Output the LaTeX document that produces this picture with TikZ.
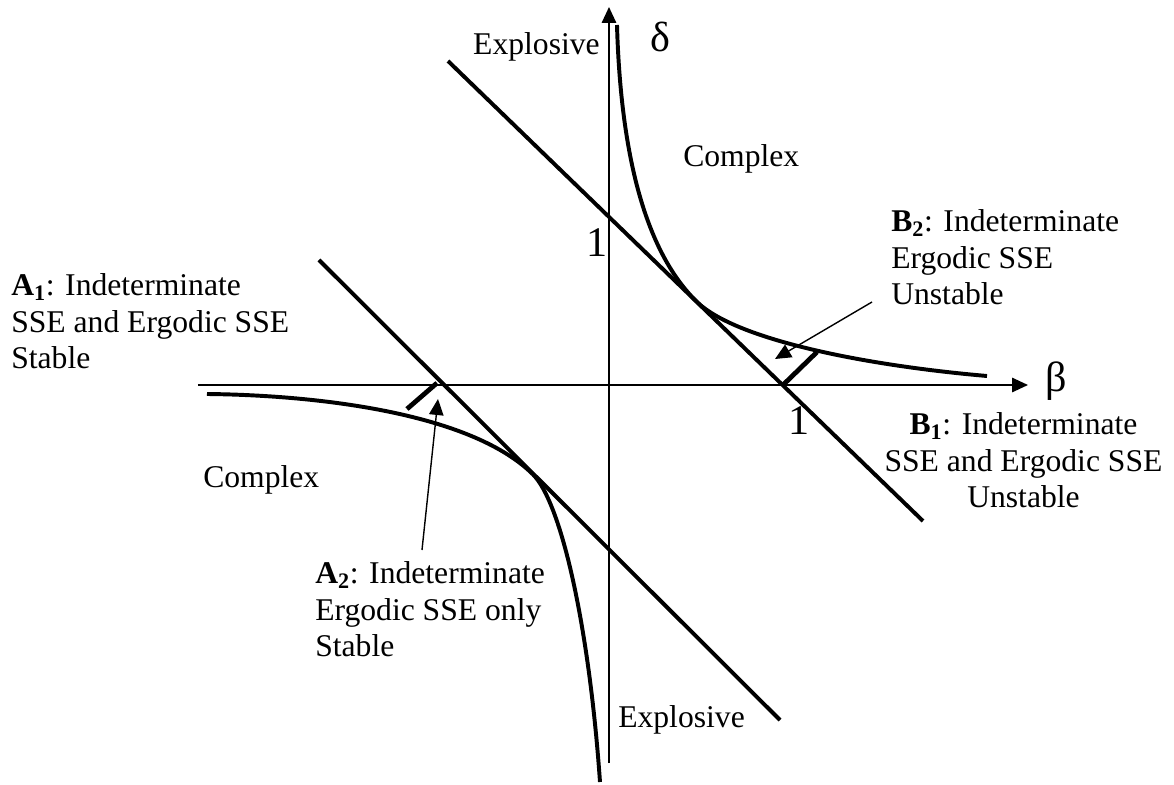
\documentclass[tikz,border=0pt]{standalone}
\usepackage{fontspec}
\setmainfont{Liberation Serif}
\usetikzlibrary{arrows.meta}

\begin{document}
\begin{tikzpicture}[
  axis/.style={line width=1.4pt, -{Triangle[length=0.4cm, width=0.36cm]}},
  bound/.style={line width=2.8pt},
  tickseg/.style={line width=3.4pt},
  pointer/.style={line width=1pt, -{Triangle[length=0.4cm, width=0.36cm]}},
  lbl/.style={inner sep=0pt, font=\fontsize{22.5}{26}\selectfont},
  big/.style={inner sep=0pt, font=\fontsize{30}{34}\selectfont}
]
% Frame (origin where the axes cross)
\useasboundingbox (-15.225,-10.0) rectangle (14.125,9.625);

% Axes
\coordinate (xl) at (-10.275,0);
\coordinate (xr) at (10.475,0);
\coordinate (yb) at (0,-9.45);
\coordinate (yt) at (0,9.45);
\draw[axis] (xl) -- (xr);
\draw[axis] (yb) -- (yt);
\node[big] (beta) at (11.175,0.1) {β};
\node[big] (delta) at (1.275,8.7) {δ};
\node[big] (one-d) at (-0.3,3.55) {1};
\node[big] (one-b) at (4.75,-0.9) {1};

% The two straight boundaries
\coordinate (up-s) at (-4.025,8.1);
\coordinate (up-e) at (7.85,-3.4);
\coordinate (lo-s) at (-7.25,3.125);
\coordinate (lo-e) at (4.275,-8.375);
\draw[bound] (up-s) -- (up-e);
\draw[bound] (lo-s) -- (lo-e);

% The two hyperbola branches, each touching its line once
\coordinate (up-touch) at (2.2,2.076);
\coordinate (lo-touch) at (-1.9,-2.236);
\draw[bound] (0.2,9.0) .. controls (0.3,5.5) and (1.0,3.24) .. (up-touch)
  .. controls (3.2,1.11) and (6.5,0.48) .. (9.45,0.225);
\draw[bound] (-10.05,-0.225) .. controls (-7.5,-0.25) and (-3.5,-0.646) .. (lo-touch)
  .. controls (-1.2,-2.932) and (-0.5,-6.0) .. (-0.225,-9.925);

% Short segments marking the regions A2 and B2
\coordinate (b1) at (4.35,0);
\coordinate (b2) at (5.2,0.825);
\coordinate (a1) at (-4.3,0.05);
\coordinate (a2) at (-5.05,-0.6);
\draw[tickseg] (b1) -- (b2);
\draw[tickseg] (a2) -- (a1);

% Region labels
\node[lbl, anchor=base east] (expl-up) at (-0.225,8.25) {Explosive};
\node[lbl, anchor=base west] (cplx-up) at (1.85,5.45) {Complex};
\node[lbl, anchor=base west] (cplx-lo) at (-10.15,-2.55) {Complex};
\node[lbl, anchor=base west] (expl-lo) at (0.225,-8.55) {Explosive};

\node[lbl, anchor=north west, align=left] (A1) at (-14.95,2.7875)
  {\textbf{A}\textsubscript{\textbf{1}}: Indeterminate\\SSE and Ergodic SSE\\Stable};
\node[lbl, anchor=north west, align=left] (A2) at (-7.35,-4.4125)
  {\textbf{A}\textsubscript{\textbf{2}}: Indeterminate\\Ergodic SSE only\\Stable};
\node[lbl, anchor=north west, align=left] (B2) at (7.05,4.3875)
  {\textbf{B}\textsubscript{\textbf{2}}: Indeterminate\\Ergodic SSE\\Unstable};
\node[lbl, anchor=north, align=center] (B1) at (10.3625,-0.6875)
  {\textbf{B}\textsubscript{\textbf{1}}: Indeterminate\\SSE and Ergodic SSE\\Unstable};

% Pointers
\coordinate (b2-tail) at (6.575,2.075);
\coordinate (b2-tip) at (4.15,0.65);
\coordinate (a2-tail) at (-4.675,-4.125);
\coordinate (a2-tip) at (-4.275,-0.35);
\draw[pointer] (b2-tail) -- (b2-tip);
\draw[pointer] (a2-tail) -- (a2-tip);
\end{tikzpicture}
\end{document}
